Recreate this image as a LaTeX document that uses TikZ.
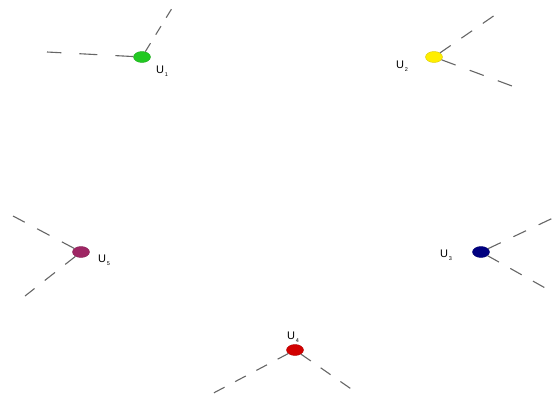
\documentclass[tikz,border=0pt]{standalone}
\usepackage{fontspec}
\setmainfont{Liberation Sans}
\usepackage{xcolor}
\usetikzlibrary{shapes.geometric, positioning}
\definecolor{ugreen}{RGB}{34,200,34}
\definecolor{uyellow}{RGB}{255,238,0}
\definecolor{unavy}{RGB}{0,0,128}
\definecolor{ured}{RGB}{210,0,0}
\definecolor{uplum}{RGB}{158,38,100}
\newcommand{\usub}[1]{U\raisebox{-2.5pt}{\fontsize{5.5}{6}\selectfont\,#1}}
\tikzset{
  usr/.style={ellipse, draw=#1!85!black, fill=#1, inner sep=0pt,
              minimum width=17pt, minimum height=11pt},
  lbl/.style={font=\fontsize{11}{13}\selectfont, inner sep=0pt},
  link/.style={draw=black!60, line width=1.1pt, dash pattern=on #1 off #1},
  link/.default=14pt
}

\begin{document}
\begin{tikzpicture}[x=1pt, y=-1pt]
  \useasboundingbox (0,0) rectangle (555,402);
  % users
  \node[usr=ugreen]  (u1) at (142,57)  {};
  \node[usr=uyellow] (u2) at (434,57)  {};
  \node[usr=unavy]   (u3) at (481,252) {};
  \node[usr=ured]    (u4) at (295,350) {};
  \node[usr=uplum]   (u5) at (81,252)  {};
  % labels
  \node[lbl] (l1) at (162,71)  {\usub{1}};
  \node[lbl] (l2) at (402,66)  {\usub{2}};
  \node[lbl] (l3) at (446,255) {\usub{3}};
  \node[lbl] (l4) at (293,337) {\usub{4}};
  \node[lbl] (l5) at (104,260) {\usub{5}};
  % free ends
  \coordinate (e1a) at (47,52);
  \coordinate (e1b) at (174,5);
  \coordinate (e2a) at (495,15);
  \coordinate (e2b) at (512,86);
  \coordinate (e3a) at (553,218);
  \coordinate (e3b) at (547,289);
  \coordinate (e4a) at (206,397);
  \coordinate (e4b) at (357,393);
  \coordinate (e5a) at (13,216);
  \coordinate (e5b) at (25,296);
  \foreach \a/\b/\d in {u1/e1a/18pt, u1/e1b/10pt, u2/e2a/13pt, u2/e2b/15pt,
                        u3/e3a/14pt, u3/e3b/13pt, u4/e4a/12pt, u4/e4b/12pt,
                        u5/e5a/14pt, u5/e5b/13pt}
    \draw[link=\d] (\a) -- (\b);
\end{tikzpicture}
\end{document}
